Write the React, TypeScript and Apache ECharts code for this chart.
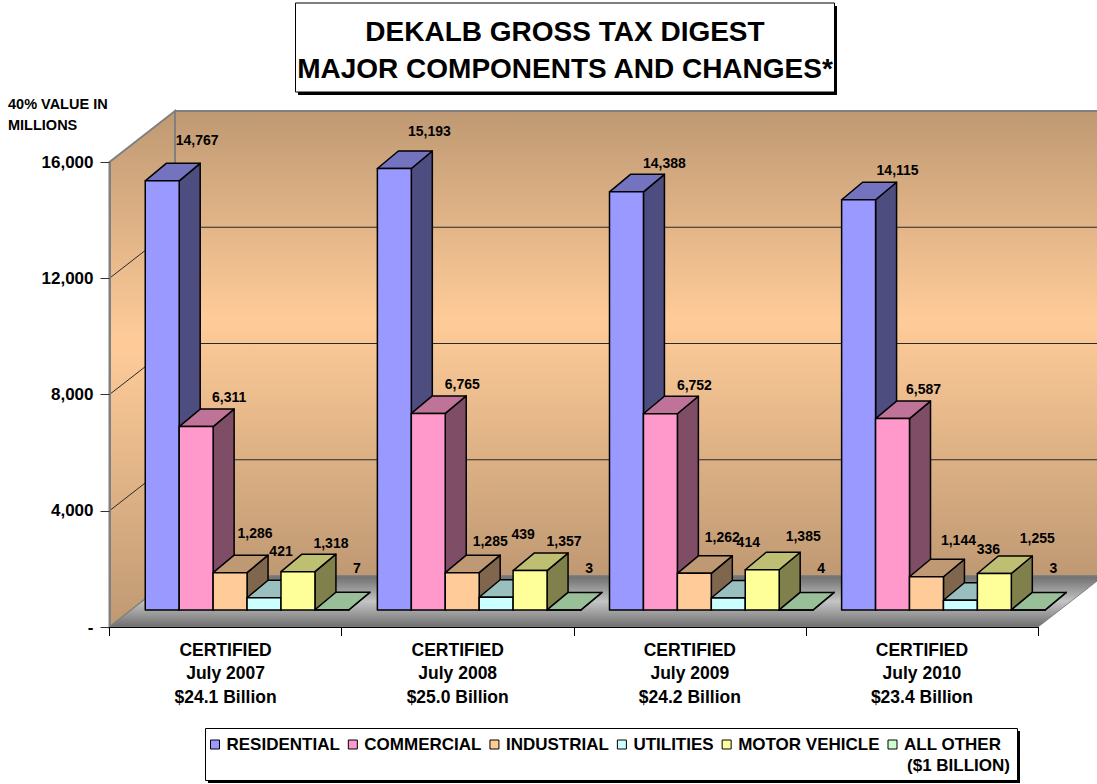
import React, { useEffect, useRef } from "react";
import * as echarts from "echarts";

const categories = [
  "CERTIFIED\nJuly 2007\n$24.1 Billion",
  "CERTIFIED\nJuly 2008\n$25.0 Billion",
  "CERTIFIED\nJuly 2009\n$24.2 Billion",
  "CERTIFIED\nJuly 2010\n$23.4 Billion",
];
const residential = [14767, 15193, 14388, 14115];
const commercial = [6311, 6765, 6752, 6587];
const industrial = [1286, 1285, 1262, 1144];
const utilities = [421, 439, 414, 336];
const motorVehicle = [1318, 1357, 1385, 1255];
const allOther = [7, 3, 4, 3];
const gridValues = [4000, 8000, 12000, 16000];

const seriesDefs = [
  { name: "RESIDENTIAL", values: residential, front: "#9999FF", top: "#7373BF", side: "#4D4D80" },
  { name: "COMMERCIAL", values: commercial, front: "#FF99CC", top: "#BF7399", side: "#804D66" },
  { name: "INDUSTRIAL", values: industrial, front: "#FFCC99", top: "#BF9973", side: "#80664D" },
  { name: "UTILITIES", values: utilities, front: "#CCFFFF", top: "#99BFBF", side: "#668080" },
  { name: "MOTOR VEHICLE", values: motorVehicle, front: "#FFFF99", top: "#BFBF73", side: "#80804D" },
  { name: "ALL OTHER", values: allOther, front: "#CCFFCC", top: "#99BF99", side: "#668066" },
];

// hand-placed label offsets from each bar's front-top centre, [dx, dy] per category
const labelNudges = [
  [[35, -41], [35, -37], [38, -29], [39, -30]],
  [[33, -30], [34, -29], [34, -29], [31, -30]],
  [[25, -40], [28, -32], [28, -36], [32, -37]],
  [[17, -47], [27, -63], [20, -56], [28, -51]],
  [[33, -29], [34, -30], [41, -34], [43, -36]],
  [[25, -42], [25, -42], [25, -42], [25, -42]],
];

const WALL_DX = 65.5;
const WALL_DY = 51;
const BAR_DX = 21.5;
const BAR_DY = 17;
const BAR_DEPTH_X = 21;
const BAR_DEPTH_Y = 17.5;
const BAR_FRAC = 0.1462;
const FONT = '"Liberation Sans", Arial, sans-serif';

const wallGradient = () =>
  new echarts.graphic.LinearGradient(0, 0, 0, 1, [
    { offset: 0, color: "#BF9973" },
    { offset: 0.45, color: "#FFCC99" },
    { offset: 1, color: "#BF9973" },
  ]);
const floorGradient = () =>
  new echarts.graphic.LinearGradient(0, 0, 0, 1, [
    { offset: 0, color: "#6E6E6E" },
    { offset: 0.5, color: "#C4C4C4" },
    { offset: 1, color: "#6E6E6E" },
  ]);

const renderBackdrop = (_params: any, api: any) => {
  const band = api.size([1, 0])[0];
  const [x0, y0] = api.coord([0, 0]);
  const left = x0 - band / 2;
  const right = api.coord([categories.length - 1, 0])[0] + band / 2;
  const yTop = api.coord([0, 16000])[1];
  const children: any[] = [
    {
      type: "polygon",
      shape: { points: [[left, yTop], [left + WALL_DX, yTop - WALL_DY], [left + WALL_DX, y0 - WALL_DY], [left, y0]] },
      style: { fill: wallGradient(), stroke: "#808080", lineWidth: 2 },
    },
    {
      type: "polygon",
      shape: { points: [[left + WALL_DX, yTop - WALL_DY], [right + WALL_DX, yTop - WALL_DY], [right + WALL_DX, y0 - WALL_DY], [left + WALL_DX, y0 - WALL_DY]] },
      style: { fill: wallGradient(), stroke: "#808080", lineWidth: 2 },
    },
    {
      type: "polygon",
      shape: { points: [[left, y0], [left + WALL_DX, y0 - WALL_DY], [right + WALL_DX, y0 - WALL_DY], [right, y0]] },
      style: { fill: floorGradient(), stroke: "#808080", lineWidth: 1 },
    },
  ];
  gridValues.slice(0, -1).forEach((v) => {
    const y = api.coord([0, v])[1];
    children.push({
      type: "polyline",
      shape: { points: [[left, y], [left + WALL_DX, y - WALL_DY], [right + WALL_DX, y - WALL_DY]] },
      style: { fill: "none", stroke: "#2A2A2A", lineWidth: 1 },
    });
  });
  return { type: "group", children };
};

const renderBar = (index: number) => (_params: any, api: any) => {
  const cat = api.value(0);
  const val = api.value(1);
  const def = seriesDefs[index];
  const base = api.coord([cat, 0]);
  const peak = api.coord([cat, val]);
  const w = api.size([1, 0])[0] * BAR_FRAC;
  const x1 = base[0] + BAR_DX - 3 * w + index * w;
  const x2 = x1 + w;
  const yb = base[1] - BAR_DY;
  const yt = peak[1] - BAR_DY;
  const edge = { stroke: "#000", lineWidth: 1.5, lineJoin: "round" };
  const [nx, ny] = labelNudges[index][cat];
  return {
    type: "group",
    children: [
      {
        type: "polygon",
        shape: { points: [[x2, yt], [x2 + BAR_DEPTH_X, yt - BAR_DEPTH_Y], [x2 + BAR_DEPTH_X, yb - BAR_DEPTH_Y], [x2, yb]] },
        style: { fill: def.side, ...edge },
      },
      {
        type: "polygon",
        shape: { points: [[x1, yt], [x1 + BAR_DEPTH_X, yt - BAR_DEPTH_Y], [x2 + BAR_DEPTH_X, yt - BAR_DEPTH_Y], [x2, yt]] },
        style: { fill: def.top, ...edge },
      },
      {
        type: "polygon",
        shape: { points: [[x1, yt], [x2, yt], [x2, yb], [x1, yb]] },
        style: { fill: def.front, ...edge },
      },
      {
        type: "text",
        z2: 100,
        style: {
          text: val.toLocaleString("en-US"),
          x: (x1 + x2) / 2 + nx,
          y: yt + ny,
          fill: "#000",
          font: `bold 14px ${FONT}`,
          align: "center",
          verticalAlign: "middle",
        },
      },
    ],
  };
};

export default function App() {
  const ref = useRef<HTMLDivElement>(null);
  useEffect(() => {
    const chart = echarts.init(ref.current!, null, { renderer: "svg" });
    chart.setOption({
      animation: false,
      backgroundColor: "#fff",
      textStyle: { fontFamily: FONT },
      title: {
        text: "DEKALB GROSS TAX DIGEST\nMAJOR COMPONENTS AND CHANGES*",
        left: 564,
        top: 3,
        textAlign: "center",
        padding: [9.5, 1, 5.5, 1],
        backgroundColor: "#fff",
        borderColor: "#000",
        borderWidth: 1,
        textStyle: { fontFamily: FONT, fontSize: 28, fontWeight: "bold", color: "#000", lineHeight: 37 },
      },
      grid: { left: 109.5, right: 59, top: 162, bottom: 157 },
      legend: {
        left: 210,
        top: 736,
        padding: 0,
        itemWidth: 9,
        itemHeight: 9,
        itemGap: 8,
        selectedMode: false,
        textStyle: { fontFamily: FONT, fontSize: 17, fontWeight: "bold", color: "#000", padding: [0, 0, 0, 2] },
        data: seriesDefs.map((d) => ({
          name: d.name,
          icon: "rect",
          itemStyle: { color: d.front, borderColor: "#000", borderWidth: 1 },
        })),
      },
      xAxis: {
        type: "category",
        data: categories,
        z: 6,
        axisLine: { lineStyle: { color: "#000", width: 1 } },
        axisTick: { show: true, alignWithLabel: false, length: 9, lineStyle: { color: "#000" } },
        axisLabel: { interval: 0, margin: 11, fontFamily: FONT, fontSize: 17.5, fontWeight: "bold", color: "#000", lineHeight: 23.5 },
      },
      yAxis: {
        type: "value",
        min: 0,
        max: 16000,
        interval: 4000,
        z: 6,
        splitLine: { show: false },
        axisLine: { show: true, lineStyle: { color: "#808080", width: 2 } },
        axisTick: { show: true, length: 9, lineStyle: { color: "#333" } },
        axisLabel: {
          margin: 16,
          fontFamily: FONT,
          fontSize: 17,
          fontWeight: "bold",
          color: "#000",
          formatter: (v: number) => (v === 0 ? "-" : v.toLocaleString("en-US")),
        },
      },
      graphic: [
        { type: "rect", z: -1, shape: { x: 298, y: 6, width: 539, height: 89 }, style: { fill: "#000" } },
        { type: "rect", z: 0, shape: { x: 208, y: 731, width: 812, height: 52 }, style: { fill: "#000" } },
        { type: "rect", z: 1, shape: { x: 205.5, y: 728.5, width: 812, height: 52 }, style: { fill: "#fff", stroke: "#000", lineWidth: 1 } },
        {
          type: "text",
          z: 10,
          style: { text: "40% VALUE IN\nMILLIONS", x: 8, y: 93, fill: "#000", font: `bold 14.5px ${FONT}`, lineHeight: 21 },
        },
        {
          type: "text",
          z: 10,
          style: { text: "($1 BILLION)", x: 1010, y: 765, fill: "#000", font: `bold 17px ${FONT}`, align: "right", verticalAlign: "middle" },
        },
      ],
      series: [
        {
          type: "custom",
          name: "backdrop",
          silent: true,
          z: 1,
          data: [[0, 0]],
          encode: { x: 0, y: 1 },
          renderItem: renderBackdrop,
        },
        ...seriesDefs.map((d, i) => ({
          type: "custom",
          name: d.name,
          silent: true,
          z: 2,
          itemStyle: { color: d.front },
          encode: { x: 0, y: 1 },
          data: d.values.map((v, c) => [c, v]),
          renderItem: renderBar(i),
        })),
      ],
    });
    return () => chart.dispose();
  }, []);
  return <div ref={ref} style={{ position: "absolute", left: 0, top: 0, width: 1097, height: 784 }} />;
}
